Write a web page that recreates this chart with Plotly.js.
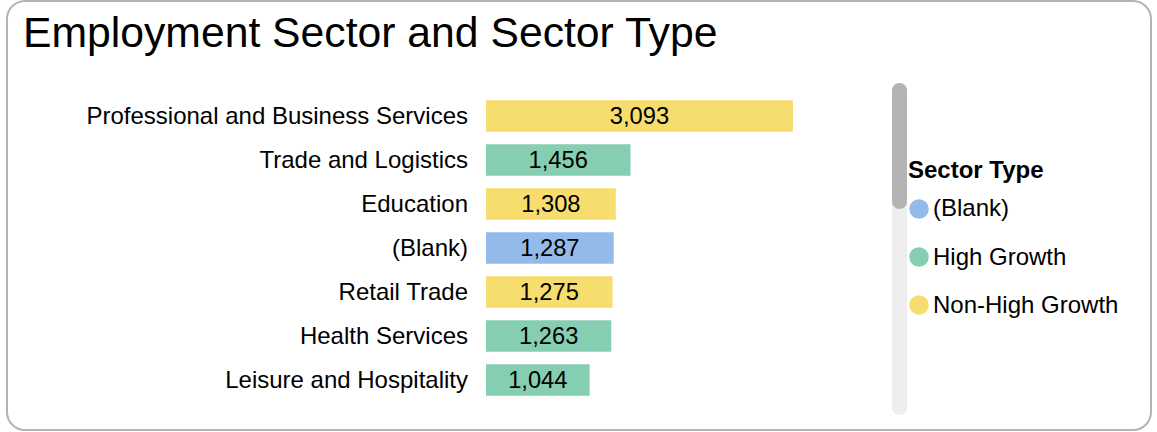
<!DOCTYPE html>
<html>
<head>
<meta charset="utf-8">
<script src="https://cdn.plot.ly/plotly-3.0.1.min.js"></script>
<style>
  html, body { margin: 0; padding: 0; background: #ffffff; }
  #chart { width: 1157px; height: 432px; }
</style>
</head>
<body>
<div id="chart"></div>
<script>
// ---- data ----
const sectors = ["Professional and Business Services", "Trade and Logistics", "Education", "(Blank)", "Retail Trade", "Health Services", "Leisure and Hospitality"];
const employees = [3093, 1456, 1308, 1287, 1275, 1263, 1044];
const sectorTypeOf = ["Non-High Growth", "High Growth", "Non-High Growth", "(Blank)", "Non-High Growth", "High Growth", "High Growth"];
const sectorTypes = ["(Blank)", "High Growth", "Non-High Growth"];
const typeColors = ["#94BAE9", "#86CEB2", "#F7DD6E"];
const chartTitle = "Employment Sector and Sector Type";
const legendTitle = "Sector Type";

// ---- layout helpers (pixel -> paper) ----
const W = 1157, H = 432;
const px = x => x / W;
const py = y => 1 - y / H;
function roundRect(x0, y0, x1, y1, r) {
  const k = 0.5523 * r;
  const P = (x, y) => px(x).toFixed(5) + ',' + py(y).toFixed(5);
  return 'M' + P(x0 + r, y0) +
    ' L' + P(x1 - r, y0) +
    ' C' + P(x1 - r + k, y0) + ' ' + P(x1, y0 + r - k) + ' ' + P(x1, y0 + r) +
    ' L' + P(x1, y1 - r) +
    ' C' + P(x1, y1 - r + k) + ' ' + P(x1 - r + k, y1) + ' ' + P(x1 - r, y1) +
    ' L' + P(x0 + r, y1) +
    ' C' + P(x0 + r - k, y1) + ' ' + P(x0, y1 - r + k) + ' ' + P(x0, y1 - r) +
    ' L' + P(x0, y0 + r) +
    ' C' + P(x0, y0 + r - k) + ' ' + P(x0 + r - k, y0) + ' ' + P(x0 + r, y0) + ' Z';
}

const FONT = '"Liberation Sans", Arial, sans-serif';
const colorOf = t => typeColors[sectorTypes.indexOf(t)];

const trace = {
  type: 'bar',
  orientation: 'h',
  y: sectors,
  x: employees,
  marker: { color: sectorTypeOf.map(colorOf), line: { width: 0 } },
  texttemplate: '%{x:,}',
  textposition: 'inside',
  insidetextanchor: 'middle',
  constraintext: 'none',
  insidetextfont: { family: FONT, size: 23.7, color: '#000000' },
  hoverinfo: 'none',
  showlegend: false
};

const shapes = [
  // outer rounded border
  { type: 'path', xref: 'paper', yref: 'paper', path: roundRect(7, 1, 1151, 430, 18),
    line: { color: '#b3b3b3', width: 2 }, fillcolor: 'rgba(0,0,0,0)', layer: 'below' },
  // scrollbar track
  { type: 'path', xref: 'paper', yref: 'paper', path: roundRect(892, 83, 907, 415, 7.5),
    line: { width: 0 }, fillcolor: '#eeeeee', layer: 'above' },
  // scrollbar thumb
  { type: 'path', xref: 'paper', yref: 'paper', path: roundRect(892, 83, 907, 209, 7.5),
    line: { width: 0 }, fillcolor: '#b4b4b4', layer: 'above' }
];

const annotations = [
  { xref: 'paper', yref: 'paper', x: px(906), y: py(169), xanchor: 'left', yanchor: 'middle',
    text: '<b>' + legendTitle + '</b>', showarrow: false,
    font: { family: FONT, size: 24, color: '#000000' } }
];
const legendY = [209, 257, 305];
sectorTypes.forEach((t, i) => {
  const cy = legendY[i], r = 9.75;
  shapes.push({ type: 'circle', xref: 'paper', yref: 'paper',
    x0: px(919 - r), x1: px(919 + r), y0: py(cy + r), y1: py(cy - r),
    fillcolor: typeColors[i], line: { width: 0 }, layer: 'above' });
  annotations.push({ xref: 'paper', yref: 'paper', x: px(931), y: py(cy - 1), xanchor: 'left', yanchor: 'middle',
    text: t, showarrow: false, font: { family: FONT, size: 24, color: '#000000' } });
});

const layout = {
  width: W, height: H,
  margin: { l: 0, r: 0, t: 0, b: 0, pad: 0 },
  paper_bgcolor: '#ffffff',
  plot_bgcolor: '#ffffff',
  font: { family: FONT, color: '#000000' },
  title: { text: chartTitle, x: px(23), xanchor: 'left', xref: 'paper', y: py(32), yanchor: 'middle', yref: 'paper',
    font: { family: FONT, size: 42.7, color: '#000000' } },
  bargap: 0.28,
  xaxis: { domain: [px(486), px(873)], range: [0, 3900], showgrid: false, zeroline: false,
    showticklabels: false, showline: false, ticks: '', fixedrange: true },
  yaxis: { domain: [py(402), py(94)], autorange: 'reversed', type: 'category', showgrid: false,
    zeroline: false, showline: false, ticks: '', ticklabelstandoff: 17,
    tickfont: { family: FONT, size: 24, color: '#000000' }, fixedrange: true },
  shapes: shapes,
  annotations: annotations,
  showlegend: false,
  hovermode: false
};

Plotly.newPlot('chart', [trace], layout, { displayModeBar: false, staticPlot: true });
</script>
</body>
</html>
